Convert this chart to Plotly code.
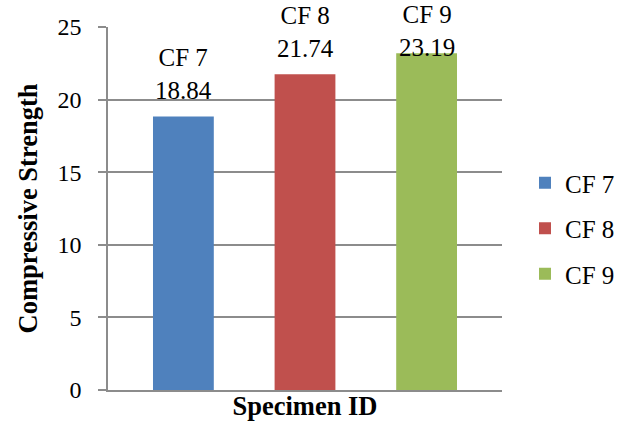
import plotly.graph_objects as go

# Specimen data
specimens = ["CF 7", "CF 8", "CF 9"]
strength = [18.84, 21.74, 23.19]
colors = ["#4F81BD", "#C0504D", "#9BBB59"]
y_ticks = [0, 5, 10, 15, 20, 25]

FONT = "Times New Roman, Liberation Serif, serif"

fig = go.Figure()
for name, val, col in zip(specimens, strength, colors):
    fig.add_trace(go.Bar(
        x=[name], y=[val], name=name, legendgroup=name,
        marker=dict(color=col, line=dict(width=0)),
        width=0.5,
    ))
    # value label above each bar, kept inside the top of the figure
    label_y = min(val, 21.8)
    fig.add_annotation(
        x=name, y=label_y, xref="x", yref="y",
        text=f"{name}<br>{val:.2f}", showarrow=False,
        yanchor="bottom", yshift=10,
        font=dict(family=FONT, size=25, color="#000000"),
    )

fig.update_layout(
    width=617, height=427,
    margin=dict(l=108, r=115, t=27, b=35),
    paper_bgcolor="white", plot_bgcolor="white",
    barmode="overlay",
    font=dict(family=FONT, size=24, color="#000000"),
    showlegend=True,
    legend=dict(
        xref="container", yref="container",
        x=525 / 617, y=1 - 160 / 427, xanchor="left", yanchor="top",
        font=dict(family=FONT, size=25, color="#000000"),
        tracegroupgap=10, bgcolor="rgba(0,0,0,0)",
    ),
    xaxis=dict(
        type="category", categoryorder="array", categoryarray=specimens,
        range=[-0.62, 2.62], showticklabels=False, ticks="",
        showline=True, linecolor="#8C8C8C", linewidth=1.5,
        showgrid=False, zeroline=False,
        title=dict(text="<b>Specimen ID</b>", standoff=6,
                   font=dict(family=FONT, size=26.5, color="#000000")),
    ),
    yaxis=dict(
        range=[0, 25], tickvals=y_ticks, ticks="outside", ticklen=8,
        tickcolor="#8C8C8C", tickwidth=1.5,
        showline=True, linecolor="#8C8C8C", linewidth=1.5,
        showgrid=True, gridcolor="#8C8C8C", gridwidth=1.5,
        zeroline=False, ticklabelstandoff=12,
        tickfont=dict(family=FONT, size=24, color="#000000"),
        title=dict(text="<b>Compressive Strength</b>", standoff=12,
                   font=dict(family=FONT, size=26.5, color="#000000")),
    ),
)

fig.write_html("out.html")
